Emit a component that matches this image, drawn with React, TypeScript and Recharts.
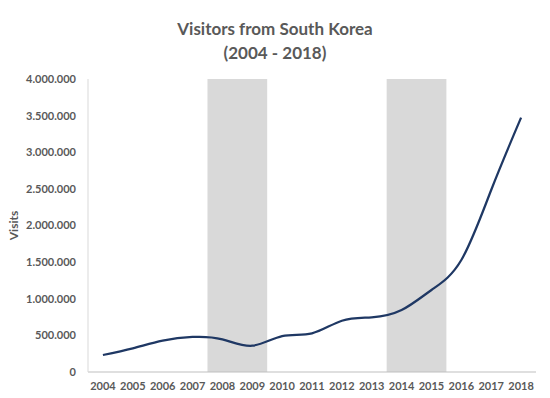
import { Line, LineChart, ReferenceArea, XAxis, YAxis } from "recharts";

const years = [
  "2004", "2005", "2006", "2007", "2008", "2009", "2010", "2011",
  "2012", "2013", "2014", "2015", "2016", "2017", "2018",
];
const visits = [
  232000, 323000, 427000, 478000, 446000, 359000, 491000, 528000,
  700000, 747000, 846000, 1120000, 1529000, 2485000, 3472000,
];
const shadedPeriods: [string, string][] = [
  ["2008", "2009"],
  ["2014", "2015"],
];
const yTicks = [0, 500000, 1000000, 1500000, 2000000, 2500000, 3000000, 3500000, 4000000];
const boundaryTicks = years.map((_, i) => i).concat(years.length);

const data = years.map((year, i) => ({ year, visits: visits[i], idx: i + 0.5 }));

const GRAY = "#595959";
const FONT = "Lato, 'Open Sans', sans-serif";

const fmt = (v: number) => v.toLocaleString("de-DE");

export default function App() {
  return (
    <div style={{ position: "absolute", left: 0, top: 0, width: 550, height: 398, background: "#fff", fontFamily: FONT }}>
      <div
        style={{
          position: "absolute",
          top: 17,
          left: 0,
          width: 550,
          textAlign: "center",
          color: GRAY,
          fontWeight: 700,
          fontSize: 17,
          lineHeight: "24px",
        }}
      >
        Visitors from South Korea
        <br />
        (2004 - 2018)
      </div>
      <LineChart width={550} height={398} data={data} margin={{ top: 79, right: 14, bottom: 0, left: 0 }}>
        {shadedPeriods.map(([a, b]) => (
          <ReferenceArea key={a} x1={a} x2={b} fill="#d9d9d9" fillOpacity={1} stroke="none" />
        ))}
        <XAxis
          dataKey="year"
          scale="band"
          height={26}
          axisLine={{ stroke: "#bfbfbf" }}
          tickLine={false}
          tickSize={0}
          tick={{ fill: GRAY, fontSize: 11, fontWeight: 700, fontFamily: FONT }}
          tickMargin={10}
          interval={0}
        />
        <XAxis
          xAxisId="bounds"
          type="number"
          dataKey="idx"
          domain={[0, years.length]}
          ticks={boundaryTicks}
          axisLine={false}
          tick={false}
          tickLine={{ stroke: "#bfbfbf" }}
          tickSize={5}
          height={0}
        />
        <YAxis
          width={88}
          domain={[0, 4000000]}
          ticks={yTicks}
          tickFormatter={fmt}
          axisLine={{ stroke: "#d9d9d9" }}
          tickLine={false}
          tickSize={0}
          tickMargin={12}
          tick={{ fill: GRAY, fontSize: 11, fontWeight: 700, fontFamily: FONT }}
          label={{
            value: "Visits",
            angle: -90,
            position: "insideLeft",
            offset: 14,
            style: { fill: GRAY, fontSize: 12, fontWeight: 700, fontFamily: FONT, textAnchor: "middle" },
          }}
        />
        <Line
          type="natural"
          dataKey="visits"
          stroke="#1f3864"
          strokeWidth={2.25}
          dot={false}
          isAnimationActive={false}
        />
      </LineChart>
    </div>
  );
}
